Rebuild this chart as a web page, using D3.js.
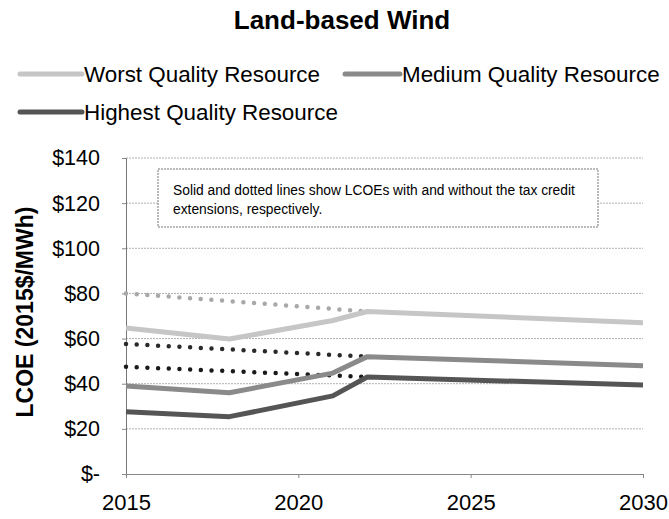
<!DOCTYPE html>
<html><head><meta charset="utf-8">
<script src="https://cdn.jsdelivr.net/npm/d3@7"></script>
<style>
html,body{margin:0;padding:0;background:#fff;}
svg{display:block;font-family:"Liberation Sans",Arial,sans-serif;}
</style></head>
<body><svg id="c" width="669" height="519"></svg>
<script>
const title = "Land-based Wind";
const yLabel = "LCOE (2015$/MWh)";
const note = ["Solid and dotted lines show LCOEs with and without the tax credit", "extensions, respectively."];
const seriesNames = ["Worst Quality Resource", "Medium Quality Resource", "Highest Quality Resource"];
const solidYears = [2015, 2018, 2021, 2022, 2030];
const worstSolid = [64.7, 59.8, 68, 72, 67];
const mediumSolid = [39, 36, 44.7, 52, 48];
const highestSolid = [27.6, 25.4, 34.6, 43, 39.4];
const dottedYears = [2015, 2022];
const worstDotted = [80, 72];
const mediumDotted = [57.6, 52];
const highestDotted = [47.5, 43];
const yTicks = [0, 20, 40, 60, 80, 100, 120, 140];
const xTicks = [2015, 2020, 2025, 2030];

const colors = ["#c6c6c6", "#8a8a8a", "#555555"];
const dotColors = ["#a8a8a8", "#2a2a2a", "#1a1a1a"];

const svg = d3.select("#c");
const x = d3.scaleLinear().domain([2015, 2030]).range([126, 643]);
const y = d3.scaleLinear().domain([0, 140]).range([474, 158]);

svg.append("text").attr("x", 342).attr("y", 29).attr("text-anchor", "middle")
  .attr("font-size", 26).attr("font-weight", "bold").text(title);

// gridlines
svg.append("g").selectAll("line").data(yTicks.filter(d => d > 0)).join("line")
  .attr("x1", x(2015)).attr("x2", x(2030)).attr("y1", d => y(d)).attr("y2", d => y(d))
  .attr("stroke", "#b0b0b0").attr("stroke-width", 1).attr("stroke-dasharray", "2,1");

// y axis
const ya = svg.append("g").attr("transform", `translate(${x(2015)},0)`)
  .call(d3.axisLeft(y).tickValues(yTicks).tickSize(4).tickPadding(22)
    .tickFormat(d => d === 0 ? "$-" : "$" + d));
ya.select(".domain").attr("stroke", "#777");
ya.selectAll(".tick line").attr("stroke", "#888");
ya.selectAll("text").attr("font-size", 21.5).attr("font-family", "Liberation Sans, Arial, sans-serif").attr("fill", "#000");

// x axis
const xa = svg.append("g").attr("transform", `translate(0,${y(0)})`)
  .call(d3.axisBottom(x).tickValues(xTicks).tickSize(4).tickPadding(16).tickFormat(d3.format("d")));
xa.select(".domain").attr("stroke", "#888");
xa.selectAll(".tick line").attr("stroke", "#888");
xa.selectAll("text").attr("font-size", 22).attr("font-family", "Liberation Sans, Arial, sans-serif").attr("fill", "#000");

svg.append("text").attr("transform", "translate(33,312) rotate(-90)").attr("text-anchor", "middle")
  .attr("font-size", 23).attr("font-weight", "bold").text(yLabel);

// annotation box
svg.append("rect").attr("x", 158).attr("y", 169).attr("width", 440).attr("height", 58)
  .attr("fill", "#fff").attr("stroke", "#777").attr("stroke-width", 1).attr("stroke-dasharray", "2,1");
svg.append("g").selectAll("text").data(note).join("text")
  .attr("x", 173).attr("y", (d, i) => 195 + i * 19)
  .attr("font-family", "Liberation Sans Narrow, Arial Narrow, sans-serif").attr("font-size", 13.8)
  .text(d => d);

const line = d3.line().x(d => x(d[0])).y(d => y(d[1]));
const solids = [worstSolid, mediumSolid, highestSolid];
const dotted = [worstDotted, mediumDotted, highestDotted];

dotted.forEach((vals, i) => {
  svg.append("path").datum(dottedYears.map((yr, j) => [yr, vals[j]]))
    .attr("d", line).attr("fill", "none").attr("stroke", dotColors[i])
    .attr("stroke-width", 4.5).attr("stroke-linecap", "round").attr("stroke-dasharray", "0,10.7");
});
solids.forEach((vals, i) => {
  svg.append("path").datum(solidYears.map((yr, j) => [yr, vals[j]]))
    .attr("d", line).attr("fill", "none").attr("stroke", colors[i])
    .attr("stroke-width", 5).attr("stroke-linejoin", "round");
});

// legend
const legendPos = [[20, 74], [345, 74], [20, 112]];
const lg = svg.append("g");
seriesNames.forEach((n, i) => {
  const [lx, ly] = legendPos[i];
  const len = i === 1 ? 55 : 62;
  lg.append("line").attr("x1", lx).attr("x2", lx + len).attr("y1", ly).attr("y2", ly)
    .attr("stroke", colors[i]).attr("stroke-width", 5).attr("stroke-linecap", "round");
  lg.append("text").attr("x", lx + len + 2).attr("y", ly + 8).attr("font-size", 22.4).text(n);
});
</script></body></html>
